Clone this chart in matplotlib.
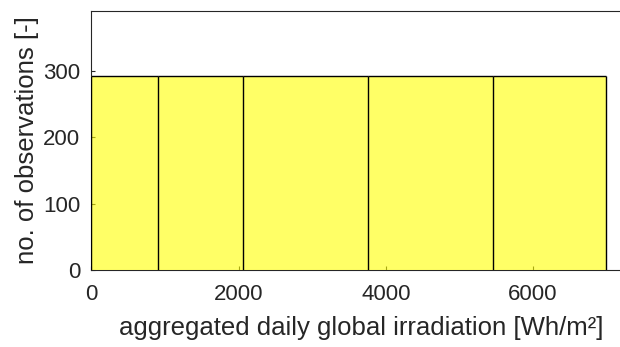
import matplotlib
matplotlib.use('Agg')
import matplotlib.pyplot as plt
import numpy as np

# bin edges of the histogram [Wh/m²] and counts per bin
bin_edges = [0, 908, 2063, 3757, 5455, 6988]
counts = [292, 292, 292, 292, 292]

xticks = [0, 2000, 4000, 6000]
yticks = [0, 100, 200, 300]

plt.rcParams['font.family'] = ['Liberation Sans', 'DejaVu Sans']

fig = plt.figure(figsize=(6.2, 3.47), dpi=100)
# axes runs past the right border of the figure, like the cropped original
ax = fig.add_axes([91.4 / 620, 1 - 270 / 347, (631 - 91.4) / 620, (270 - 11) / 347])

edges = np.array(bin_edges)
cnt = np.array(counts)
# MATLAB-like histogram: yellow face with alpha 0.6 drawn over the axis line
ax.bar(edges[:-1], cnt, width=np.diff(edges), align='edge',
       color='yellow', alpha=0.6, linewidth=0, zorder=3)
# black bar outlines (sides and tops only, bottom stays under the yellow)
edge_heights = np.maximum(np.append(cnt, 0), np.insert(cnt, 0, 0))
ax.vlines(edges, 0, edge_heights, colors='black', linewidth=1.0, zorder=4)
ax.hlines(cnt, edges[:-1], edges[1:], colors='black', linewidth=1.0, zorder=4)

ax.set_xlim(0, 7330)
ax.set_ylim(0, 390)
ax.set_xticks(xticks)
ax.set_yticks(yticks)
ax.tick_params(direction='in', length=3, width=0.8, colors='#262626',
               labelsize=16, labelcolor='#262626', pad=8)
ax.tick_params(axis='x', pad=10)
for side in ['top', 'bottom', 'left']:
    ax.spines[side].set_color('#262626')
    ax.spines[side].set_linewidth(0.8)
ax.spines['right'].set_visible(False)

ax.set_xlabel('aggregated daily global irradiation [Wh/m²]', fontsize=18.5, color='#262626', labelpad=8)
ax.set_ylabel('no. of observations [-]', fontsize=18.5, color='#262626', labelpad=3)

fig.savefig('out.png', dpi=100)
